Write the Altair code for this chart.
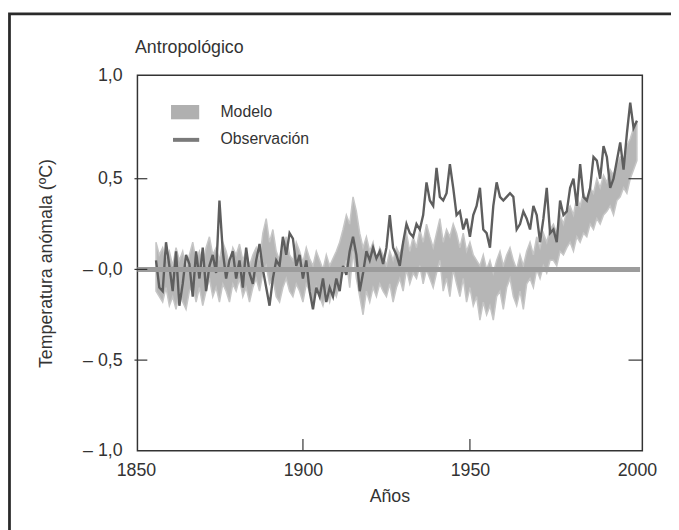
import altair as alt
import pandas as pd

years = list(range(1856, 2001))

obs = [0.05, -0.10, -0.12, 0.15, 0.02, -0.12, 0.10, -0.20, -0.08, 0.08,
       0.03, -0.15, 0.10, -0.05, 0.12, -0.12, 0.02, 0.08, -0.02, 0.38,
       0.10, -0.05, 0.05, 0.10, -0.05, 0.05, -0.10, 0.12, -0.02, -0.08,
       0.05, 0.14, 0.00, -0.10, -0.20, -0.05, 0.05, 0.02, 0.18, 0.08,
       0.20, 0.17, 0.02, 0.08, -0.05, 0.05, -0.12, -0.22, -0.10, -0.15,
       -0.05, -0.18, -0.10, -0.15, -0.05, -0.12, 0.02, -0.03, 0.10, 0.18,
       0.08, -0.12, -0.02, 0.10, 0.05, 0.12, 0.06, 0.10, 0.03, 0.12,
       0.30, 0.12, 0.08, 0.02, 0.15, 0.25, 0.20, 0.18, 0.25, 0.22,
       0.30, 0.48, 0.38, 0.35, 0.56, 0.40, 0.38, 0.42, 0.58, 0.45,
       0.30, 0.32, 0.22, 0.28, 0.18, 0.30, 0.35, 0.45, 0.22, 0.20,
       0.12, 0.35, 0.48, 0.40, 0.38, 0.40, 0.42, 0.40, 0.22, 0.25,
       0.32, 0.28, 0.22, 0.35, 0.30, 0.15, 0.28, 0.45, 0.20, 0.22,
       0.15, 0.38, 0.30, 0.32, 0.45, 0.50, 0.35, 0.58, 0.40, 0.38,
       0.45, 0.62, 0.60, 0.50, 0.68, 0.62, 0.45, 0.50, 0.60, 0.70,
       0.55, 0.75, 0.92, 0.78, 0.82]

model_upper = [0.15, 0.08, 0.12, 0.05, 0.10, 0.02, 0.12, 0.05, 0.10, 0.00,
               0.08, 0.15, 0.05, 0.10, 0.02, 0.12, 0.18, 0.08, 0.12, 0.05,
               0.15, 0.10, 0.02, 0.12, 0.08, 0.14, 0.05, 0.10, 0.02, 0.08,
               0.12, 0.05, 0.20, 0.28, 0.15, 0.22, 0.10, 0.05, 0.12, 0.18,
               0.08, 0.05, 0.15, 0.10, 0.04, 0.12, 0.06, 0.02, 0.10, 0.05,
               0.00, 0.08, 0.02, 0.06, 0.10, 0.15, 0.22, 0.30, 0.25, 0.40,
               0.32, 0.20, 0.12, 0.18, 0.10, 0.15, 0.05, 0.12, 0.08, 0.02,
               0.10, 0.05, 0.12, 0.08, 0.15, 0.20, 0.10, 0.18, 0.12, 0.22,
               0.15, 0.25, 0.18, 0.12, 0.20, 0.28, 0.15, 0.22, 0.18, 0.25,
               0.20, 0.12, 0.20, 0.10, 0.15, 0.08, 0.05, 0.02, 0.08, 0.00,
               0.05, -0.02, 0.05, 0.10, 0.02, 0.08, 0.12, 0.05, 0.00, 0.08,
               0.02, 0.10, 0.15, 0.08, 0.18, 0.12, 0.20, 0.15, 0.22, 0.25,
               0.20, 0.30, 0.25, 0.32, 0.35, 0.30, 0.40, 0.35, 0.42, 0.38,
               0.45, 0.42, 0.50, 0.45, 0.52, 0.48, 0.55, 0.52, 0.58, 0.62,
               0.60, 0.68, 0.72, 0.78, 0.82]

model_lower = [-0.12, -0.15, -0.18, -0.10, -0.20, -0.15, -0.22, -0.12, -0.18, -0.22,
               -0.12, -0.08, -0.18, -0.10, -0.20, -0.12, -0.05, -0.15, -0.10, -0.18,
               -0.08, -0.12, -0.18, -0.08, -0.12, -0.05, -0.15, -0.10, -0.18, -0.10,
               -0.05, -0.12, -0.02, 0.02, -0.08, -0.05, -0.15, -0.18, -0.10, -0.05,
               -0.12, -0.15, -0.08, -0.12, -0.18, -0.08, -0.12, -0.20, -0.10, -0.15,
               -0.20, -0.12, -0.18, -0.10, -0.15, -0.08, -0.02, 0.05, -0.10, 0.10,
               -0.05, -0.15, -0.25, -0.12, -0.18, -0.10, -0.15, -0.08, -0.12, -0.15,
               -0.08, -0.18, -0.10, -0.05, -0.12, 0.00, -0.08, -0.02, -0.05, 0.02,
               -0.08, 0.00, -0.05, -0.10, -0.02, 0.05, -0.12, -0.05, -0.15, 0.00,
               -0.08, -0.15, -0.05, -0.18, -0.10, -0.20, -0.15, -0.28, -0.18, -0.25,
               -0.20, -0.28, -0.15, -0.12, -0.22, -0.10, -0.05, -0.15, -0.20, -0.12,
               -0.22, -0.08, -0.05, -0.10, 0.00, -0.05, 0.02, -0.02, 0.05, 0.05,
               0.02, 0.10, 0.08, 0.12, 0.15, 0.10, 0.18, 0.15, 0.20, 0.18,
               0.25, 0.22, 0.28, 0.25, 0.30, 0.32, 0.35, 0.30, 0.38, 0.40,
               0.45, 0.42, 0.50, 0.55, 0.60]

y_tick_values = [-1.0, -0.5, 0.0, 0.5, 1.07]
x_tick_values = [1850, 1900, 1950, 2000]
left_ticks = [-0.5, 0.0, 0.5]
right_ticks = [-0.5, 0.5]
bottom_ticks = [1900, 1950]
legend_labels = ["Modelo", "Observación"]

W, H = 511, 380
FONT = "Liberation Sans, Arial, sans-serif"
TXT = "#333333"

df = pd.DataFrame({"year": years, "obs": obs, "lo": model_lower, "hi": model_upper})

xs = alt.Scale(domain=[1850, 2000], range=[-1.5, 505.5], nice=False)
ys = alt.Scale(domain=[-1.0, 1.07], nice=False, zero=False)

x_axis = alt.Axis(values=x_tick_values, format="d", grid=False, domain=False, ticks=False,
                  tickSize=0, labelPadding=25, labelBaseline="alphabetic", labelFlush=False,
                  labelOverlap=False,
                  labelFont=FONT, labelFontSize=18, labelColor=TXT,
                  title="Años", titleFont=FONT, titleFontSize=18, titleFontWeight="normal",
                  titleColor=TXT, titleX=255, titleY=51, titleBaseline="alphabetic")

label_expr = ("datum.value > 1 ? '1,0' : datum.value == 0.5 ? '0,5' : "
              "datum.value == 0 ? '– 0,0' : datum.value == -0.5 ? '– 0,5' : '– 1,0'")
y_axis = alt.Axis(values=y_tick_values, labelExpr=label_expr, grid=False, domain=False,
                  ticks=False, tickSize=0, labelPadding=15.5, labelAlign="right",
                  labelBaseline="middle", labelFlush=False, labelOverlap=False,
                  labelFont=FONT, labelFontSize=18, labelColor=TXT,
                  title="Temperatura anómala (ºC)", titleFont=FONT, titleFontSize=18,
                  titleFontWeight="normal", titleColor=TXT, titleAngle=270,
                  titleX=-87, titleY=190, titleBaseline="alphabetic")

band = alt.Chart(df).mark_area(color="#b6b6b6", stroke="#c6c6c6", strokeWidth=1.5).encode(
    x=alt.X("year:Q", scale=xs, axis=x_axis),
    y=alt.Y("lo:Q", scale=ys, axis=y_axis),
    y2="hi:Q",
)

line = alt.Chart(df).mark_line(color="#5e5e5e", strokeWidth=2.4).encode(
    x=alt.X("year:Q", scale=xs),
    y=alt.Y("obs:Q", scale=ys),
)

zero = alt.Chart(pd.DataFrame({"v": [0.0]})).mark_rule(color="#9c9c9c", strokeWidth=5).encode(
    y=alt.Y("v:Q", scale=ys), x=alt.value(0), x2=alt.value(508.7)
)

lt = alt.Chart(pd.DataFrame({"v": left_ticks})).mark_rule(color="#333", strokeWidth=1.2).encode(
    y=alt.Y("v:Q", scale=ys), x=alt.value(-3), x2=alt.value(10)
)
rt = alt.Chart(pd.DataFrame({"v": right_ticks})).mark_rule(color="#333", strokeWidth=1.2).encode(
    y=alt.Y("v:Q", scale=ys), x=alt.value(W - 14), x2=alt.value(W)
)
bt = alt.Chart(pd.DataFrame({"t": bottom_ticks})).mark_rule(color="#333", strokeWidth=1.2).encode(
    x=alt.X("t:Q", scale=xs), y=alt.value(H - 12), y2=alt.value(H)
)

one = pd.DataFrame({"k": [0]})
leg_rect = alt.Chart(one).mark_rect(color="#b0b0b0").encode(
    x=alt.value(34), x2=alt.value(62.5), y=alt.value(30), y2=alt.value(44.5)
)
leg_line = alt.Chart(one).mark_rule(color="#7a7a7a", strokeWidth=4).encode(
    x=alt.value(36), x2=alt.value(62.5), y=alt.value(65.3)
)
leg_t1 = alt.Chart(one).mark_text(text=legend_labels[0], align="left", baseline="alphabetic",
                                  font=FONT, fontSize=16, color=TXT).encode(
    x=alt.value(84), y=alt.value(42.3)
)
leg_t2 = alt.Chart(one).mark_text(text=legend_labels[1], align="left", baseline="alphabetic",
                                  font=FONT, fontSize=16, color=TXT).encode(
    x=alt.value(84), y=alt.value(69)
)
title = alt.Chart(one).mark_text(text="Antropológico", align="left", baseline="alphabetic",
                                 font=FONT, fontSize=18, color=TXT).encode(
    x=alt.value(-2.5), y=alt.value(-23)
)
frame = alt.Chart(one).mark_rect(fillOpacity=0, stroke="#2a2a2a", strokeWidth=2.8).encode(
    x=alt.value(-129.5), x2=alt.value(W + 200), y=alt.value(-62.2), y2=alt.value(H + 200)
)

chart = alt.layer(band, line, zero, lt, rt, bt, leg_rect, leg_line, leg_t1, leg_t2, title, frame).properties(
    width=W, height=H,
    autosize=alt.AutoSizeParams(type="none"),
    padding={"left": 131, "top": 65, "right": 29, "bottom": 77},
    background="white",
).configure_view(stroke="#333333", strokeWidth=1.5)

chart.save("out.html", embed_options={"renderer": "svg", "actions": False})
